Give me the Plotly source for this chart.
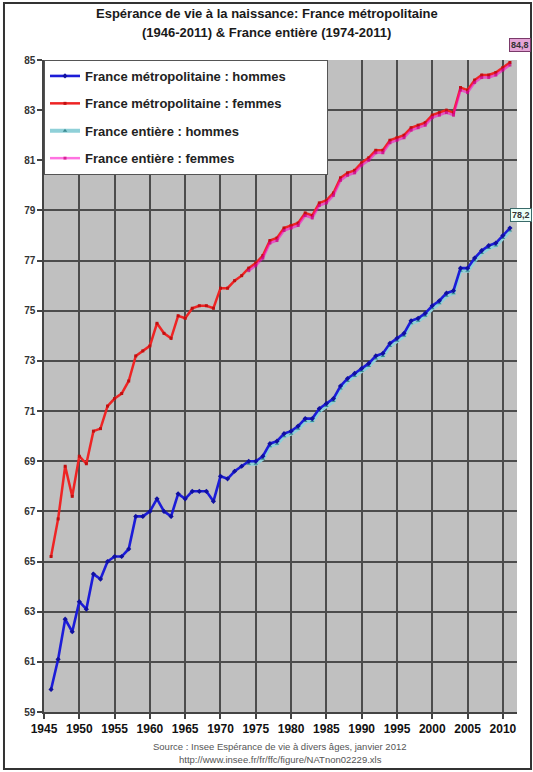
import plotly.graph_objects as go

# ---------------- data ----------------
years_metro = list(range(1946, 2012))
years_entiere = list(range(1974, 2012))

metro_hommes = [
    59.9, 61.1, 62.7, 62.2, 63.4, 63.1, 64.5, 64.3, 65.0, 65.2,   # 1946-1955
    65.2, 65.5, 66.8, 66.8, 67.0, 67.5, 67.0, 66.8, 67.7, 67.5,   # 1956-1965
    67.8, 67.8, 67.8, 67.4, 68.4, 68.3, 68.6, 68.8, 69.0, 69.0,   # 1966-1975
    69.2, 69.7, 69.8, 70.1, 70.2, 70.4, 70.7, 70.7, 71.1, 71.3,   # 1976-1985
    71.5, 72.0, 72.3, 72.5, 72.7, 72.9, 73.2, 73.3, 73.7, 73.9,   # 1986-1995
    74.1, 74.6, 74.7, 74.9, 75.2, 75.4, 75.7, 75.8, 76.7, 76.7,   # 1996-2005
    77.1, 77.4, 77.6, 77.7, 78.0, 78.3,                           # 2006-2011
]
metro_femmes = [
    65.2, 66.7, 68.8, 67.6, 69.2, 68.9, 70.2, 70.3, 71.2, 71.5,
    71.7, 72.2, 73.2, 73.4, 73.6, 74.5, 74.1, 73.9, 74.8, 74.7,
    75.1, 75.2, 75.2, 75.1, 75.9, 75.9, 76.2, 76.4, 76.7, 76.9,
    77.2, 77.8, 77.9, 78.3, 78.4, 78.5, 78.9, 78.8, 79.3, 79.4,
    79.7, 80.3, 80.5, 80.6, 80.9, 81.1, 81.4, 81.4, 81.8, 81.9,
    82.0, 82.3, 82.4, 82.5, 82.8, 82.9, 83.0, 82.9, 83.9, 83.8,
    84.2, 84.4, 84.4, 84.5, 84.7, 84.9,
]
entiere_hommes = [
    68.9, 68.9, 69.1, 69.6, 69.7, 70.0, 70.1, 70.3, 70.6, 70.6,   # 1974-1983
    71.0, 71.2, 71.4, 71.9, 72.2, 72.4, 72.6, 72.8, 73.1, 73.2,   # 1984-1993
    73.6, 73.8, 74.0, 74.5, 74.6, 74.8, 75.1, 75.3, 75.6, 75.7,   # 1994-2003
    76.6, 76.6, 77.0, 77.3, 77.5, 77.6, 77.9, 78.2,               # 2004-2011
]
entiere_femmes = [
    76.6, 76.8, 77.1, 77.7, 77.8, 78.2, 78.3, 78.4, 78.8, 78.7,
    79.2, 79.3, 79.6, 80.2, 80.4, 80.5, 80.8, 81.0, 81.3, 81.3,
    81.7, 81.8, 81.9, 82.2, 82.3, 82.4, 82.7, 82.8, 82.9, 82.8,
    83.8, 83.7, 84.1, 84.3, 84.3, 84.4, 84.6, 84.8,
]

names = [
    "France métropolitaine : hommes",
    "France métropolitaine : femmes",
    "France entière : hommes",
    "France entière : femmes",
]
title_lines = [
    "Espérance de vie à la naissance: France métropolitaine",
    "(1946-2011) & France entière (1974-2011)",
]
source_lines = [
    "Source : Insee Espérance de vie à divers âges, janvier 2012",
    "http://www.insee.fr/fr/ffc/figure/NATnon02229.xls",
]

FONT = "Liberation Sans, Arial, sans-serif"
PAD = "\u00a0" * 10   # widens the legend box like the original


def leg(name, pad=""):
    return "<b>%s</b>%s" % (name, pad)


fig = go.Figure()

# France entière hommes (drawn beneath blue -> light halo)
fig.add_trace(go.Scatter(
    x=years_entiere, y=entiere_hommes, name=leg(names[2]), mode="lines+markers",
    line=dict(color="#8fd0d8", width=4),
    marker=dict(symbol="triangle-up", size=4, color="#3a8a90"),
    legendgroup="g3", legendrank=3,
))
fig.add_trace(go.Scatter(
    x=years_metro, y=metro_hommes, name=leg(names[0], PAD), mode="lines+markers",
    line=dict(color="#1c1cd8", width=2.6),
    marker=dict(symbol="diamond", size=4, color="#1010a0"),
    legendgroup="g1", legendrank=1,
))
fig.add_trace(go.Scatter(
    x=years_metro, y=metro_femmes, name=leg(names[1]), mode="lines+markers",
    line=dict(color="#ee2424", width=2.5),
    marker=dict(symbol="square", size=3, color="#c01010"),
    legendgroup="g2", legendrank=2,
))
fig.add_trace(go.Scatter(
    x=years_entiere, y=entiere_femmes, name=leg(names[3]), mode="lines+markers",
    line=dict(color="rgba(255,0,200,0.55)", width=2.5),
    marker=dict(symbol="square", size=3, color="rgba(200,0,120,0.7)"),
    legendgroup="g4", legendrank=4,
))

annotations = []
# title
for line, yp in zip(title_lines, [1.0706, 1.0425]):
    annotations.append(dict(
        text="<b>%s</b>" % line, xref="paper", yref="paper", x=0.471, y=yp,
        xanchor="center", yanchor="middle", showarrow=False,
        font=dict(family=FONT, size=13, color="#1a1a1a"),
    ))
# source
for line, yp in zip(source_lines, [-0.0525, -0.0735]):
    annotations.append(dict(
        text=line, xref="paper", yref="paper", x=0.499, y=yp,
        xanchor="center", yanchor="middle", showarrow=False,
        font=dict(family=FONT, size=9.5, color="#555555"),
    ))
# end value labels
annotations.append(dict(
    text="<b>%s</b>" % f"{entiere_femmes[-1]:.1f}".replace(".", ","),
    x=years_entiere[-1], y=entiere_femmes[-1], xref="x", yref="y",
    showarrow=False, xshift=10, yshift=20,
    bgcolor="#e4a4d6", bordercolor="#7a3a6a", borderwidth=1, borderpad=1,
    font=dict(family=FONT, size=9, color="#333333"),
))
annotations.append(dict(
    text="<b>%s</b>" % f"{entiere_hommes[-1]:.1f}".replace(".", ","),
    x=years_entiere[-1], y=entiere_hommes[-1], xref="x", yref="y",
    showarrow=False, xshift=11, yshift=16,
    bgcolor="#eafff8", bordercolor="#3a6a6a", borderwidth=1, borderpad=1,
    font=dict(family=FONT, size=9, color="#333333"),
))

fig.update_layout(
    width=533, height=772,
    margin=dict(l=44, r=16, t=60, b=60, pad=0),
    paper_bgcolor="white", plot_bgcolor="#c0c0c0",
    font=dict(family=FONT),
    showlegend=True,
    legend=dict(
        x=0, y=1, xanchor="left", yanchor="top",
        bgcolor="white", bordercolor="#555555", borderwidth=1,
        traceorder="grouped", tracegroupgap=7.5,
        font=dict(family=FONT, size=13, color="#222222"),
        itemwidth=30,
    ),
    annotations=annotations,
    shapes=[dict(type="rect", xref="paper", yref="paper",
                 x0=-0.0846, x1=1.0296, y0=-0.0874, y1=1.0874,
                 line=dict(color="#333333", width=2), layer="below")],
    xaxis=dict(
        range=[1945, 2012], tick0=1945, dtick=5, tickmode="linear",
        ticks="outside", ticklen=5, tickcolor="#444444", tickwidth=1.5,
        showgrid=True, gridcolor="#4c4c4c", gridwidth=1.5,
        showline=True, linecolor="#444444", linewidth=1.5,
        zeroline=False, tickangle=0,
        tickfont=dict(family=FONT, size=12, color="#111111", weight="bold"),
    ),
    yaxis=dict(
        range=[59, 85], tick0=59, dtick=2, tickmode="linear",
        ticks="outside", ticklen=5, tickcolor="#444444", tickwidth=1.5,
        showgrid=True, gridcolor="#4c4c4c", gridwidth=1.5,
        showline=True, linecolor="#444444", linewidth=1.5,
        zeroline=False,
        tickfont=dict(family=FONT, size=10, color="#333333", weight="bold"),
    ),
)

fig.write_html("out.html", config={"displayModeBar": False},
               post_script="document.body.style.margin='0px';")
